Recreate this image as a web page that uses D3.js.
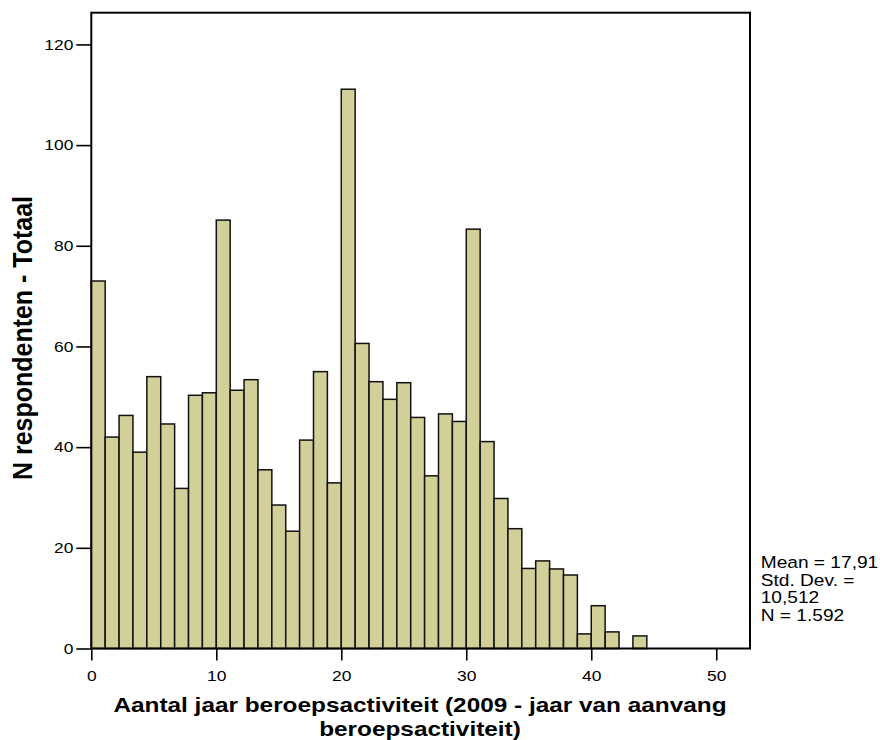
<!DOCTYPE html>
<html>
<head>
<meta charset="utf-8">
<script src="https://cdn.jsdelivr.net/npm/d3@7"></script>
<style>
  body { margin: 0; background: #fff; }
  svg { display: block; }
  text { font-family: "Liberation Sans", Arial, sans-serif; fill: #000; }
</style>
</head>
<body>
<svg id="chart" width="880" height="740"></svg>
<script>
// Histogram of years of professional activity (weighted respondent counts)
const binWidth = 10 / 9;
const counts = [
  73.0, 42.0, 46.3, 39.0, 54.0, 44.6, 31.8, 50.3, 50.8, 85.1,
  51.3, 53.4, 35.5, 28.5, 23.3, 41.4, 55.0, 32.9, 111.1, 60.6,
  53.0, 49.5, 52.8, 45.9, 34.3, 46.6, 45.1, 83.3, 41.1, 29.8,
  23.8, 15.9, 17.4, 15.8, 14.6, 2.9, 8.5, 3.3, 0, 2.5
];
const xTicks = [0, 10, 20, 30, 40, 50];
const yTicks = [0, 20, 40, 60, 80, 100, 120];
const xDomain = [0, 52.7];
const yDomain = [0, 126.3];
const xTitleLines = ["Aantal jaar beroepsactiviteit (2009 - jaar van aanvang", "beroepsactiviteit)"];
const yTitle = "N respondenten - Totaal";
const statLines = ["Mean = 17,91", "Std. Dev. =", "10,512", "N = 1.592"];

const plot = { left: 91.3, right: 750, top: 12.7, bottom: 648.5 };
const SX = 1.16; // horizontal stretch of the lettering

const svg = d3.select("#chart");
const x = d3.scaleLinear().domain(xDomain).range([plot.left, plot.right]);
const y = d3.scaleLinear().domain(yDomain).range([plot.bottom, plot.top]);

const bins = counts.map((c, i) => ({ x0: i * binWidth, x1: (i + 1) * binWidth, c }));

// bars
svg.append("g")
  .selectAll("rect")
  .data(bins.filter(d => d.c > 0))
  .join("rect")
  .attr("x", d => x(d.x0))
  .attr("y", d => y(d.c))
  .attr("width", d => x(d.x1) - x(d.x0))
  .attr("height", d => y(0) - y(d.c))
  .attr("fill", "#d3cf98")
  .attr("stroke", "#111")
  .attr("stroke-width", 1.5);

// frame
svg.append("rect")
  .attr("x", plot.left).attr("y", plot.top)
  .attr("width", plot.right - plot.left).attr("height", plot.bottom - plot.top)
  .attr("fill", "none").attr("stroke", "#000").attr("stroke-width", 2);

// y axis
const yAxis = svg.append("g")
  .attr("transform", `translate(${plot.left},0)`)
  .call(d3.axisLeft(y).tickValues(yTicks).tickSize(15).tickFormat(d3.format("d")));
yAxis.select(".domain").remove();
yAxis.selectAll(".tick line").attr("stroke", "#000").attr("stroke-width", 1.6);
yAxis.selectAll(".tick text")
  .attr("font-size", 15)
  .attr("x", -18 / SX)
  .attr("transform", `scale(${SX},1)`);

// x axis
const xAxis = svg.append("g")
  .attr("transform", `translate(0,${plot.bottom})`)
  .call(d3.axisBottom(x).tickValues(xTicks).tickSize(12).tickPadding(10).tickFormat(d3.format("d")));
xAxis.select(".domain").remove();
xAxis.selectAll(".tick line").attr("stroke", "#000").attr("stroke-width", 1.6);
xAxis.selectAll(".tick text")
  .attr("font-size", 15)
  .attr("transform", `scale(${SX},1)`);
svg.selectAll(".tick text").style("font-family", '"Liberation Sans", Arial, sans-serif');

// x title
const xTitleBaselines = [711.7, 736];
xTitleLines.forEach((t, i) => {
  svg.append("text")
    .attr("transform", `translate(420,${xTitleBaselines[i]}) scale(${SX},1)`)
    .attr("text-anchor", "middle")
    .attr("font-size", 21)
    .attr("font-weight", "bold")
    .text(t);
});

// y title
svg.append("text")
  .attr("transform", `translate(32.3,338) scale(1.08,1) rotate(-90)`)
  .attr("text-anchor", "middle")
  .attr("font-size", 25)
  .attr("font-weight", "bold")
  .text(yTitle);

// summary statistics
const statBaselines = [567.7, 586, 603.3, 621];
statLines.forEach((t, i) => {
  svg.append("text")
    .attr("transform", `translate(760.7,${statBaselines[i]}) scale(${SX},1)`)
    .attr("font-size", 16.5)
    .text(t);
});
</script>
</body>
</html>
